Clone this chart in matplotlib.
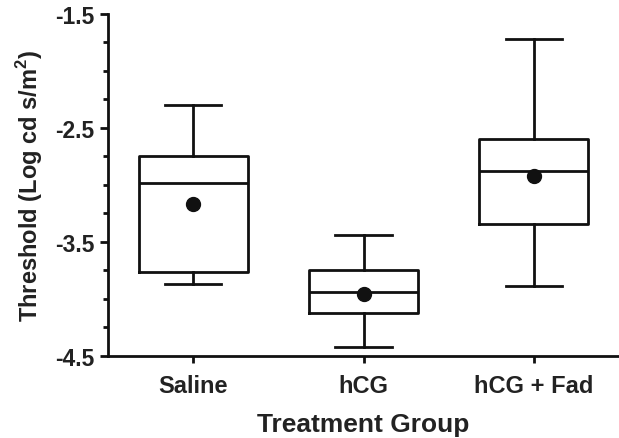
import matplotlib
matplotlib.use("Agg")
import matplotlib.pyplot as plt
from matplotlib.ticker import MultipleLocator

plt.rcParams["font.family"] = ["Liberation Sans", "DejaVu Sans"]
plt.rcParams["font.weight"] = "bold"
plt.rcParams["axes.labelweight"] = "bold"
plt.rcParams["mathtext.fontset"] = "custom"
plt.rcParams["mathtext.bf"] = "Liberation Sans:bold"
plt.rcParams["mathtext.rm"] = "Liberation Sans:bold"

# values (log cd s/m^2)
groups = ["Saline", "hCG", "hCG + Fad"]
whislo = [-3.87, -4.42, -3.89]
q1 = [-3.76, -4.12, -3.34]
med = [-2.98, -3.94, -2.88]
q3 = [-2.75, -3.75, -2.60]
whishi = [-2.30, -3.44, -1.72]
means = [-3.17, -3.96, -2.92]

ink = "#111111"
txt = "#222222"

stats = []
for i, g in enumerate(groups):
    stats.append({"label": g, "whislo": whislo[i], "q1": q1[i], "med": med[i],
                  "q3": q3[i], "whishi": whishi[i], "fliers": []})

fig = plt.figure(figsize=(6.19, 4.39), dpi=100)
ax = fig.add_axes([0.1745, 0.187, 0.8255, 0.779])

pos = list(range(1, len(groups) + 1))
line = dict(color=ink, linewidth=2.0)
ax.bxp(stats, positions=pos, widths=0.64, showfliers=False,
       boxprops=line, whiskerprops=line, capprops=line,
       medianprops=dict(color=ink, linewidth=2.0), capwidths=0.33,
       manage_ticks=False)
ax.plot(pos, means, "o", color=ink, markersize=10, zorder=5)

ax.set_xlim(0.5, 3.5)
ax.set_ylim(-4.5, -1.5)
ax.set_xticks(pos)
ax.set_xticklabels(groups)
ax.yaxis.set_minor_locator(MultipleLocator(0.25))
ax.set_yticks([-4.5, -3.5, -2.5, -1.5])
ax.set_yticklabels(["-4.5", "-3.5", "-2.5", "-1.5"])

for s in ["top", "right"]:
    ax.spines[s].set_visible(False)
for s in ["left", "bottom"]:
    ax.spines[s].set_linewidth(2.0)
    ax.spines[s].set_color(ink)
    ax.spines[s].set_capstyle("projecting")

ax.tick_params(axis="y", which="major", length=6, width=2.0, color=ink,
               labelsize=16.5, labelcolor=txt, pad=4)
ax.tick_params(axis="y", which="minor", length=3.5, width=2.0, color=ink)
ax.tick_params(axis="x", which="major", length=5, width=2.0, color=ink,
               labelsize=17, labelcolor=txt, pad=8)

ax.set_xlabel("Treatment Group", fontsize=19, color=txt, labelpad=11)
ax.set_ylabel("Threshold (Log cd s/m$^\\mathbf{2}$)", fontsize=17, color=txt,
              labelpad=7)

fig.savefig("out.png", dpi=100)
